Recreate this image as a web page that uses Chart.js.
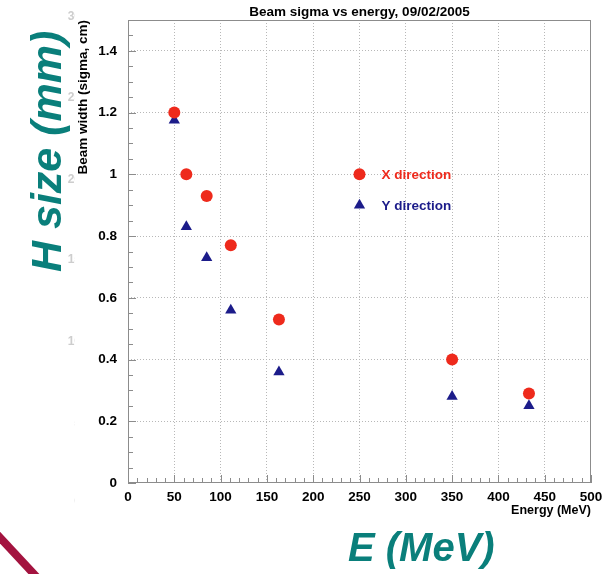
<!DOCTYPE html>
<html>
<head>
<meta charset="utf-8">
<script src="https://cdn.jsdelivr.net/npm/chart.js@4/dist/chart.umd.min.js"></script>
<style>
  html, body { margin: 0; padding: 0; background: #fff; }
  #wrap { position: relative; width: 616px; height: 574px; overflow: hidden; font-family: "Liberation Sans", Arial, sans-serif; }
  #wrap canvas { position: absolute; left: 0; top: 0; }
  .txt { position: absolute; white-space: nowrap; font-weight: bold; }
  .ghost { position: absolute; left: 50px; width: 25px; overflow: hidden; color: #cdcdcd; font-size: 12px; font-weight: bold; }
  .ghost span { display: block; width: 31px; text-align: right; }
</style>
</head>
<body>
<div id="wrap">
  <canvas id="beam-chart" width="616" height="574"></canvas>

  <!-- faint axis labels of the slide behind the plot -->
  <div class="ghost" style="top:9px"><span>30</span></div>
  <div class="ghost" style="top:90px"><span>25</span></div>
  <div class="ghost" style="top:172px"><span>20</span></div>
  <div class="ghost" style="top:252px"><span>15</span></div>
  <div class="ghost" style="top:334px"><span>10</span></div>
  <div class="ghost" style="top:416px"><span>5</span></div>
  <div class="ghost" style="top:494px"><span>0</span></div>

  <div class="txt" style="left:128px; width:463px; top:4px; font-size:13.5px; text-align:center;">Beam sigma vs energy, 09/02/2005</div>
  <div class="txt" style="left:75px; top:320px; width:300px; line-height:15px; font-size:13.5px; text-align:right; transform-origin:0 0; transform:rotate(-90deg);">Beam width (sigma, cm)</div>
  <div class="txt" style="left:391px; width:200px; top:503px; font-size:12.5px; text-align:right;">Energy (MeV)</div>

  <div class="txt" style="left:25px; top:272px; font-size:43px; line-height:43px; font-style:italic; color:#0a7f7b; transform-origin:0 0; transform:rotate(-90deg);">H size (mm)</div>
  <div class="txt" style="left:348px; top:527px; font-size:40px; line-height:40px; font-style:italic; color:#0a7f7b;">E (MeV)</div>

  <svg width="616" height="574" style="position:absolute; left:0; top:0; pointer-events:none;">
    <line x1="-10" y1="527" x2="46" y2="587" stroke="#a3133f" stroke-width="8"/>
  </svg>
</div>

<script>
// Beam energy (MeV) and measured widths (sigma, cm)
const energies = [50, 63, 85, 111, 163, 350, 433];
const sigmaX = [1.20, 1.00, 0.93, 0.77, 0.53, 0.40, 0.29];
const sigmaY = [1.175, 0.83, 0.73, 0.56, 0.36, 0.28, 0.25];

// Axis ticks
const xTicks = [0, 50, 100, 150, 200, 250, 300, 350, 400, 450, 500];
const yTicks = [0, 0.2, 0.4, 0.6, 0.8, 1.0, 1.2, 1.4];
const yTickLabels = ['0', '0.2', '0.4', '0.6', '0.8', '1', '1.2', '1.4'];

// Legend entries
const seriesNames = ['X direction', 'Y direction'];
const legendX = 250;
const legendY = [1.0, 0.9];

const red = '#ee2a1c';
const navy = '#1c1c8a';
const frameColor = '#8c8c8c';
const gridColor = '#b8b8b8';
const tickFont = { family: '"Liberation Sans", Arial, sans-serif', size: 13.5, weight: 'bold' };

/**
 * Draws the ROOT style frame, inner major and minor ticks.
 */
const framePlugin = {
  id: 'frame',
  beforeDatasetsDraw(chart) {
    const { ctx, chartArea: a, scales } = chart;
    ctx.save();
    ctx.strokeStyle = frameColor;
    ctx.lineWidth = 1;
    ctx.strokeRect(a.left + 0.5, a.top + 0.5, a.right - a.left - 1, a.bottom - a.top - 1);

    ctx.beginPath();
    // x ticks, every 10 MeV, major every 50
    for (let v = 0; v <= 500; v += 10) {
      const px = Math.round(scales.x.getPixelForValue(v)) + 0.5;
      const len = v % 50 === 0 ? 8 : 5;
      ctx.moveTo(px, a.bottom);
      ctx.lineTo(px, a.bottom - len);
    }
    // y ticks, every 0.05, major every 0.2
    for (let i = 0; i <= 30; i++) {
      const v = i * 0.05;
      const py = Math.round(scales.y.getPixelForValue(v)) + 0.5;
      const len = i % 4 === 0 ? 8 : 5;
      ctx.moveTo(a.left, py);
      ctx.lineTo(a.left + len, py);
    }
    ctx.stroke();
    ctx.restore();
  },
};

/**
 * Draws the in-plot legend, placed in data coordinates.
 */
const legendPlugin = {
  id: 'innerLegend',
  afterDatasetsDraw(chart) {
    const { ctx, scales } = chart;
    ctx.save();
    chart.data.datasets.forEach((ds, i) => {
      const px = scales.x.getPixelForValue(legendX);
      const py = scales.y.getPixelForValue(legendY[i]);
      ctx.fillStyle = ds.backgroundColor;
      Chart.helpers.drawPoint(ctx, { pointStyle: ds.pointStyle, radius: ds.pointRadius, borderWidth: 0 }, px, py);
      ctx.font = 'bold 13.5px "Liberation Sans", Arial, sans-serif';
      ctx.textBaseline = 'middle';
      ctx.textAlign = 'left';
      ctx.fillText(seriesNames[i], px + 22, py + 1);
    });
    ctx.restore();
  },
};

function toPoints(values) {
  return energies.map((e, i) => ({ x: e, y: values[i] }));
}

function initChart() {
  const ctx = document.getElementById('beam-chart').getContext('2d');
  new Chart(ctx, {
    type: 'scatter',
    data: {
      datasets: [
        {
          label: seriesNames[0],
          data: toPoints(sigmaX),
          pointStyle: 'circle',
          pointRadius: 6,
          backgroundColor: red,
          borderWidth: 0,
        },
        {
          label: seriesNames[1],
          data: toPoints(sigmaY),
          pointStyle: 'triangle',
          pointRadius: 6.5,
          backgroundColor: navy,
          borderWidth: 0,
        },
      ],
    },
    options: {
      animation: false,
      responsive: false,
      layout: { padding: { left: 0, top: 20, right: 25, bottom: 0 } },
      plugins: {
        legend: { display: false },
        tooltip: { enabled: false },
      },
      scales: {
        x: {
          type: 'linear',
          min: 0,
          max: 500,
          afterBuildTicks: (s) => { s.ticks = xTicks.map((v) => ({ value: v })); },
          afterFit: (s) => { s.height = 91; },
          ticks: { color: '#000', font: tickFont, padding: 6, maxRotation: 0, autoSkip: false },
          grid: {
            drawTicks: false,
            color: (c) => (c.tick && (c.tick.value === 0 || c.tick.value === 500) ? 'rgba(0,0,0,0)' : gridColor),
            lineWidth: 1,
          },
          border: { display: false, dash: [1, 2] },
        },
        y: {
          type: 'linear',
          min: 0,
          max: 1.5,
          afterBuildTicks: (s) => { s.ticks = yTicks.map((v) => ({ value: v })); },
          afterFit: (s) => { s.width = 128; },
          ticks: {
            color: '#000',
            font: tickFont,
            padding: 11,
            autoSkip: false,
            callback: (v, i) => yTickLabels[i],
          },
          grid: {
            drawTicks: false,
            color: (c) => (c.tick && c.tick.value === 0 ? 'rgba(0,0,0,0)' : gridColor),
            lineWidth: 1,
          },
          border: { display: false, dash: [1, 2] },
        },
      },
    },
    plugins: [framePlugin, legendPlugin],
  });
}

document.addEventListener('DOMContentLoaded', initChart);
</script>
</body>
</html>
